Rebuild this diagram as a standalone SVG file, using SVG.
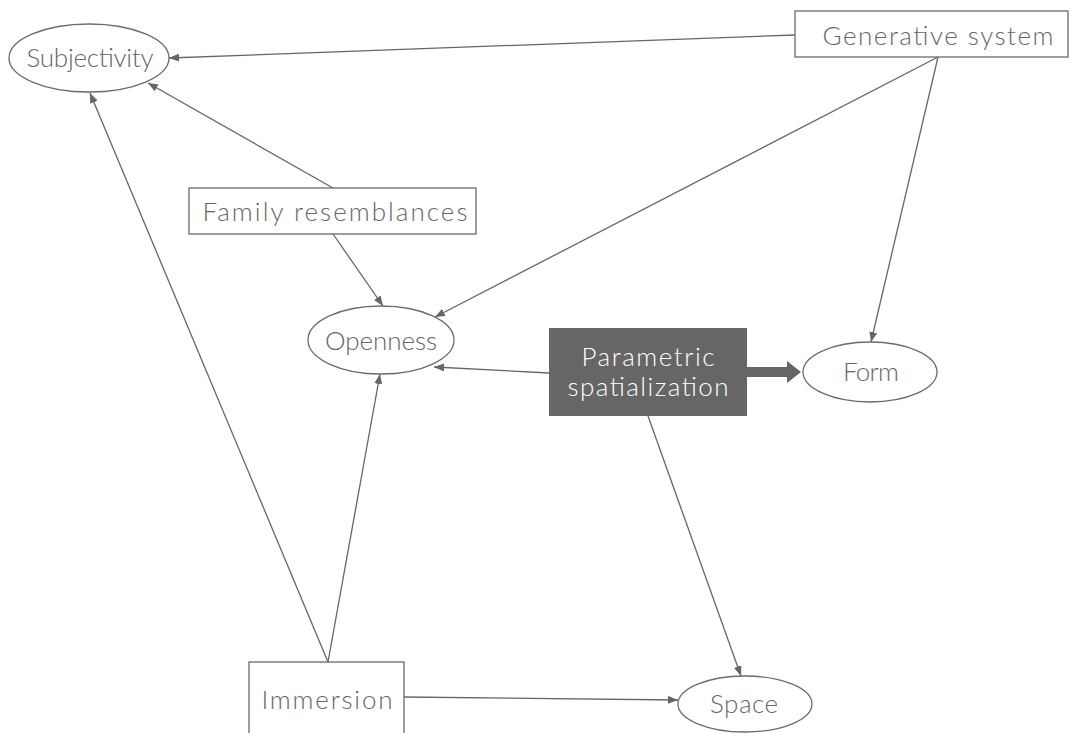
<svg xmlns="http://www.w3.org/2000/svg" width="1076" height="733" viewBox="0 0 1076 733">
  <style>
    .shape { fill: #ffffff; stroke: #6b6b6b; stroke-width: 1.3; }
    .dark { fill: #666666; stroke: none; }
    .label { font-family: Lato, "Open Sans", "Liberation Sans", sans-serif; font-weight: 300; font-size: 26px; fill: #666666; text-anchor: middle; }
    .light { fill: #ffffff; }
    .edge { fill: none; stroke: #666666; stroke-width: 1.3; marker-end: url(#head); }
  </style>
  <defs>
    <marker id="head" viewBox="0 0 10 8" refX="10" refY="4" markerWidth="10" markerHeight="8" markerUnits="userSpaceOnUse" orient="auto">
      <path d="M0,0 L10,4 L0,8 Z" fill="#666666"/>
    </marker>
  </defs>
  <rect width="1076" height="733" fill="#ffffff"/>

  <g id="connectors">
    <line class="edge" x1="795" y1="35" x2="169" y2="58"/>
    <line class="edge" x1="333" y1="188" x2="148" y2="83"/>
    <line class="edge" x1="328" y1="662" x2="90" y2="93"/>
    <line class="edge" x1="333" y1="234" x2="383" y2="306"/>
    <line class="edge" x1="938" y1="57" x2="435" y2="317"/>
    <line class="edge" x1="938" y1="57" x2="871" y2="342"/>
    <line class="edge" x1="549" y1="373" x2="434" y2="367"/>
    <line class="edge" x1="328" y1="662" x2="380" y2="374"/>
    <line class="edge" x1="648" y1="416" x2="741" y2="676"/>
    <line class="edge" x1="404" y1="697" x2="678" y2="700"/>
    <!-- block arrow from Parametric spatialization to Form -->
    <path class="dark" d="M747,367 L787,367 L787,361 L801,372 L787,383 L787,377 L747,377 Z"/>
  </g>

  <g id="subjectivity">
    <ellipse class="shape" cx="89" cy="58" rx="80" ry="34"/>
    <text class="label" x="90" y="67" textLength="127" lengthAdjust="spacing">Subjectivity</text>
  </g>
  <g id="generative-system">
    <rect class="shape" x="795" y="11" width="273" height="46"/>
    <text class="label" x="938" y="45" textLength="231" lengthAdjust="spacing">Generative system</text>
  </g>
  <g id="family-resemblances">
    <rect class="shape" x="189" y="188" width="287" height="46"/>
    <text class="label" x="335" y="221" textLength="265" lengthAdjust="spacing">Family resemblances</text>
  </g>
  <g id="openness">
    <ellipse class="shape" cx="381" cy="340" rx="73" ry="34"/>
    <text class="label" x="381" y="350" textLength="112" lengthAdjust="spacing">Openness</text>
  </g>
  <g id="parametric-spatialization">
    <rect class="dark" x="549" y="328" width="198" height="88"/>
    <text class="label light" x="648" y="366" textLength="133" lengthAdjust="spacing">Parametric</text>
    <text class="label light" x="648" y="396" textLength="161" lengthAdjust="spacing">spatialization</text>
  </g>
  <g id="form">
    <ellipse class="shape" cx="870" cy="372" rx="67" ry="30"/>
    <text class="label" x="871" y="381" textLength="56" lengthAdjust="spacing">Form</text>
  </g>
  <g id="immersion">
    <rect class="shape" x="249" y="662" width="155" height="90"/>
    <text class="label" x="327" y="709" textLength="131" lengthAdjust="spacing">Immersion</text>
  </g>
  <g id="space">
    <ellipse class="shape" cx="745" cy="704" rx="67" ry="28"/>
    <text class="label" x="744" y="713" textLength="68" lengthAdjust="spacing">Space</text>
  </g>
</svg>
